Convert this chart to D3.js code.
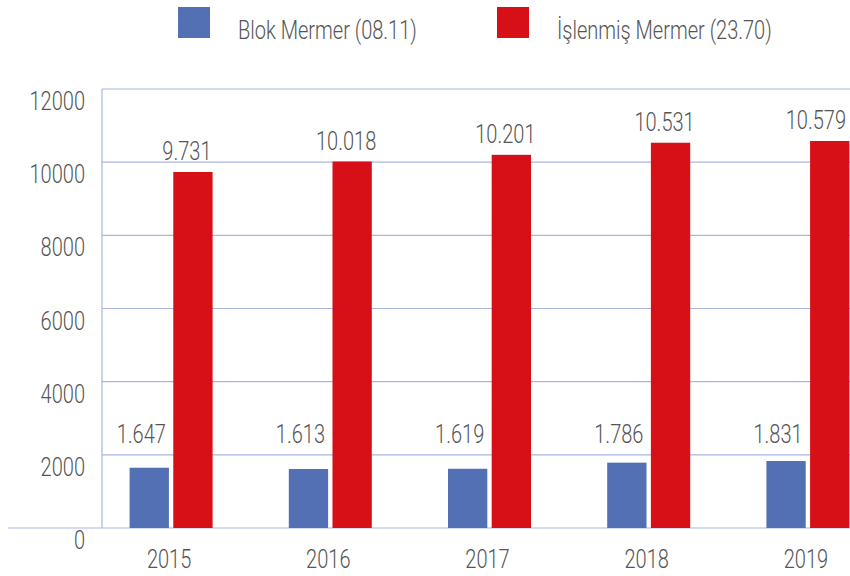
<!DOCTYPE html>
<html>
<head>
<meta charset="utf-8">
<script src="https://cdn.jsdelivr.net/npm/d3@7"></script>
<style>
  body { margin: 0; background: #fff; }
  text { font-family: 'Roboto', 'Liberation Sans', sans-serif; fill: #555; font-size: 26px; font-weight: 300; }
</style>
</head>
<body>
<div id="chart"></div>
<script>
var years = ['2015', '2016', '2017', '2018', '2019'];
var blokValues = [1647, 1613, 1619, 1786, 1831];
var islenmisValues = [9731, 10018, 10201, 10531, 10579];
var seriesNames = ['Blok Mermer (08.11)', 'İşlenmiş Mermer (23.70)'];
var seriesColors = ['#5470b5', '#d71017'];
var yTicks = [0, 2000, 4000, 6000, 8000, 10000, 12000];

var width = 850, height = 576;
var squeeze = 0.77;

var svg = d3.select('#chart').append('svg')
    .attr('width', width)
    .attr('height', height);

var y = d3.scaleLinear().domain([0, 12000]).range([528, 89]);
var x = d3.scaleBand().domain(years).range([91.5, 887.5]);
var inner = d3.scaleBand().domain([0, 1])
    .range([x.bandwidth() / 2 - 41.5, x.bandwidth() / 2 + 41.5])
    .paddingInner(0.1);

// condensed text: position with translate, squeeze horizontally
function place(sel, fx, fy) {
    sel.attr('transform', function(d, i) {
        return 'translate(' + fx(d, i) + ',' + fy(d, i) + ') scale(' + squeeze + ',1)';
    });
}

// grid lines
svg.selectAll('line.grid').data(yTicks.slice(1)).enter().append('line')
    .attr('x1', 102).attr('x2', 850)
    .attr('y1', function(d) { return y(d); })
    .attr('y2', function(d) { return y(d); })
    .attr('stroke', '#aab5e2').attr('stroke-width', 1.2);

svg.append('line')
    .attr('x1', 102).attr('x2', 102)
    .attr('y1', y(12000)).attr('y2', y(0))
    .attr('stroke', '#aab5e2').attr('stroke-width', 1.2);

svg.append('line')
    .attr('x1', 8).attr('x2', 850)
    .attr('y1', y(0)).attr('y2', y(0))
    .attr('stroke', '#aab5e2').attr('stroke-width', 1.2);

// y tick labels
svg.selectAll('text.ytick').data(yTicks).enter().append('text')
    .attr('text-anchor', 'end')
    .text(function(d) { return d; })
    .call(place, function() { return 85; }, function(d) { return y(d) + 21; });

// bars
var data = years.map(function(yr, i) {
    return { year: yr, values: [blokValues[i], islenmisValues[i]] };
});

var groups = svg.selectAll('g.year').data(data).enter().append('g')
    .attr('transform', function(d) { return 'translate(' + x(d.year) + ',0)'; });

groups.selectAll('rect').data(function(d) { return d.values; }).enter().append('rect')
    .attr('x', function(d, i) { return inner(i); })
    .attr('width', inner.bandwidth())
    .attr('y', function(d) { return y(d); })
    .attr('height', function(d) { return y(0) - y(d); })
    .attr('fill', function(d, i) { return seriesColors[i]; });

var fmt = function(v) { return d3.format(',')(v).replace(',', '.'); };

groups.selectAll('text.val').data(function(d) { return d.values; }).enter().append('text')
    .attr('text-anchor', 'middle')
    .text(fmt)
    .call(place,
        function(d, i) { return inner(i) + inner.bandwidth() / 2 - (i === 0 ? 8 : 6); },
        function(d, i) { return i === 0 ? y(2330) : y(d) - 12; });

// keep the last labels inside the picture
groups.each(function(d) {
    var gx = x(d.year);
    d3.select(this).selectAll('text').each(function(v, i) {
        var w = this.getBBox().width * squeeze;
        var cx = inner(i) + inner.bandwidth() / 2 - (i === 0 ? 8 : 6);
        var maxCx = width - 4 - gx - w / 2;
        if (cx > maxCx) {
            var ty = i === 0 ? y(2330) : y(v) - 12;
            d3.select(this).attr('transform', 'translate(' + maxCx + ',' + ty + ') scale(' + squeeze + ',1)');
        }
    });
});

// year labels
svg.selectAll('text.xtick').data(years).enter().append('text')
    .attr('text-anchor', 'middle')
    .text(function(d) { return d; })
    .call(place, function(d) { return x(d) + x.bandwidth() / 2 - 2; }, function() { return 568; });

// legend
var legendX = [178, 497];
var legend = svg.selectAll('g.legend').data(seriesNames).enter().append('g')
    .attr('transform', function(d, i) { return 'translate(' + legendX[i] + ',7)'; });
legend.append('rect')
    .attr('width', 32).attr('height', 31)
    .attr('fill', function(d, i) { return seriesColors[i]; });
legend.append('text')
    .text(function(d) { return d; })
    .call(place, function() { return 60; }, function() { return 32; });
</script>
</body>
</html>
